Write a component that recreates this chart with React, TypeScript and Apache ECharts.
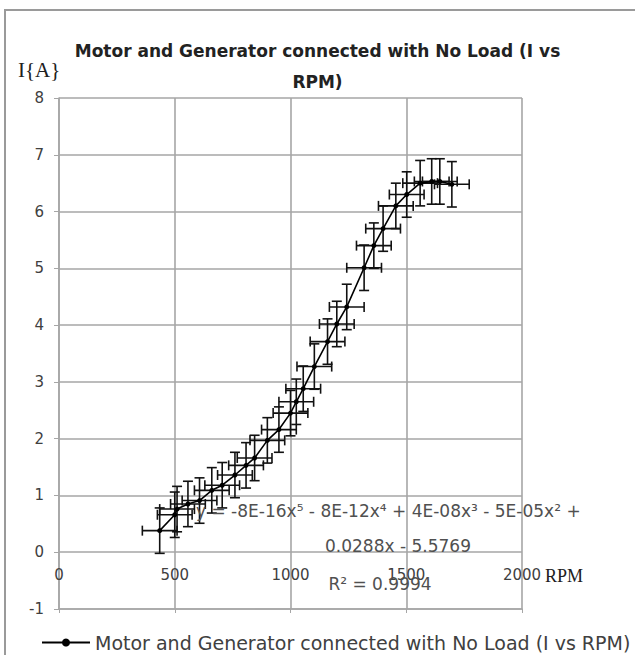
import React, { useEffect, useRef } from "react";
import * as echarts from "echarts";

const seriesName = "Motor and Generator connected with No Load (I vs RPM)";
const rpm = [435, 500, 510, 557, 607, 660, 705, 760, 808, 845, 900, 950, 1000, 1025, 1055, 1103, 1160, 1200, 1243, 1318, 1360, 1400, 1455, 1502, 1560, 1610, 1645, 1697];
const current = [0.38, 0.66, 0.76, 0.85, 0.91, 1.09, 1.18, 1.36, 1.53, 1.66, 1.97, 2.16, 2.45, 2.65, 2.88, 3.27, 3.71, 4.02, 4.32, 5.01, 5.4, 5.7, 6.1, 6.3, 6.5, 6.53, 6.53, 6.48];
const xErr = 75;
const yErr = 0.4;
const xTicks = [0, 500, 1000, 1500, 2000];
const yTicks = [-1, 0, 1, 2, 3, 4, 5, 6, 7, 8];
const titleText = "Motor and Generator connected with No Load (I vs\nRPM)";
const eqLine1 = "y = -8E-16x\u2075 - 8E-12x\u2074 + 4E-08x\u00B3 - 5E-05x\u00B2 +";
const eqLine2 = "0.0288x - 5.5769";
const eqLine3 = "R\u00B2 = 0.9994";

export default function App() {
  const ref = useRef<HTMLDivElement>(null);
  useEffect(() => {
    if (!ref.current) return;
    const chart = echarts.init(ref.current, null, { renderer: "svg" });
    const pts = rpm.map((r, i) => [r, current[i]]);
    const grid = "#a6a6a6";
    const font = "DejaVu Sans";
    chart.setOption({
      animation: false,
      backgroundColor: "#ffffff",
      title: {
        text: titleText,
        left: "center",
        top: 30,
        textStyle: { fontFamily: font, fontSize: 17, fontWeight: "bold", color: "#222222", lineHeight: 31 },
      },
      legend: {
        data: [seriesName],
        left: 36,
        top: 628,
        itemWidth: 48,
        itemHeight: 10,
        itemGap: 4,
        textStyle: { fontFamily: font, fontSize: 19, color: "#404040" },
      },
      grid: { left: 59, right: 113, top: 98, bottom: 46 },
      xAxis: {
        type: "value",
        min: 0,
        max: 2000,
        interval: 500,
        axisLine: { show: true, onZero: false, lineStyle: { color: grid, width: 1.6 } },
        axisTick: { show: true, length: 4, lineStyle: { color: grid } },
        splitLine: { show: true, lineStyle: { color: grid, width: 1.6 } },
        axisLabel: {
          margin: -42,
          fontFamily: font,
          fontSize: 15,
          color: "#404040",
          formatter: (v: number) => (xTicks.includes(v) ? String(v) : ""),
        },
      },
      yAxis: {
        type: "value",
        min: -1,
        max: 8,
        interval: 1,
        axisLine: { show: true, onZero: false, lineStyle: { color: grid, width: 1.6 } },
        axisTick: { show: true, length: 5, lineStyle: { color: grid } },
        splitLine: { show: true, lineStyle: { color: grid, width: 1.6 } },
        axisLabel: {
          margin: 15,
          fontFamily: font,
          fontSize: 15,
          color: "#404040",
          formatter: (v: number) => (yTicks.includes(v) ? String(v) : ""),
        },
      },
      graphic: [
        {
          type: "rect",
          shape: { x: 5, y: 10, width: 700, height: 700 },
          style: { fill: "none", stroke: "#9a9a9a", lineWidth: 2 },
          silent: true,
        },
        {
          type: "text",
          x: 18,
          y: 70,
          style: { text: "I{A}", font: "21px 'Liberation Serif'", fill: "#202020", verticalAlign: "middle" },
        },
        {
          type: "text",
          x: 545,
          y: 576,
          style: { text: "RPM", font: "18px 'Liberation Serif'", fill: "#202020", verticalAlign: "middle" },
        },
        {
          type: "text",
          x: 196,
          y: 511,
          z: 10,
          style: { text: eqLine1, font: "17px 'DejaVu Sans'", fill: "#505050", verticalAlign: "middle" },
        },
        {
          type: "text",
          x: 398,
          y: 546,
          z: 10,
          style: { text: eqLine2, font: "17px 'DejaVu Sans'", fill: "#505050", verticalAlign: "middle", align: "center" },
        },
        {
          type: "text",
          x: 380,
          y: 584,
          z: 10,
          style: { text: eqLine3, font: "17px 'DejaVu Sans'", fill: "#505050", verticalAlign: "middle", align: "center" },
        },
      ],
      series: [
        {
          type: "custom",
          name: "error",
          data: pts,
          encode: { x: 0, y: 1 },
          z: 2,
          silent: true,
          renderItem: (params: any, api: any) => {
            const x = api.value(0);
            const y = api.value(1);
            const c = api.coord([x, y]);
            const l = api.coord([x - xErr, y]);
            const r = api.coord([x + xErr, y]);
            const t = api.coord([x, y + yErr]);
            const b = api.coord([x, y - yErr]);
            const cap = 5;
            const st = { stroke: "#111", lineWidth: 1.6 };
            const ln = (x1: number, y1: number, x2: number, y2: number) => ({
              type: "line",
              shape: { x1, y1, x2, y2 },
              style: st,
            });
            return {
              type: "group",
              children: [
                ln(l[0], c[1], r[0], c[1]),
                ln(l[0], c[1] - cap, l[0], c[1] + cap),
                ln(r[0], c[1] - cap, r[0], c[1] + cap),
                ln(c[0], t[1], c[0], b[1]),
                ln(c[0] - cap, t[1], c[0] + cap, t[1]),
                ln(c[0] - cap, b[1], c[0] + cap, b[1]),
              ],
            };
          },
        },
        {
          type: "line",
          name: seriesName,
          data: pts,
          z: 3,
          symbol: "circle",
          symbolSize: 5,
          color: "#000000",
          itemStyle: { color: "#000000" },
          lineStyle: { color: "#000000", width: 1.6 },
        },
      ],
    });
    return () => chart.dispose();
  }, []);
  return <div ref={ref} style={{ position: "fixed", left: 0, top: 0, width: 635, height: 655 }} />;
}
